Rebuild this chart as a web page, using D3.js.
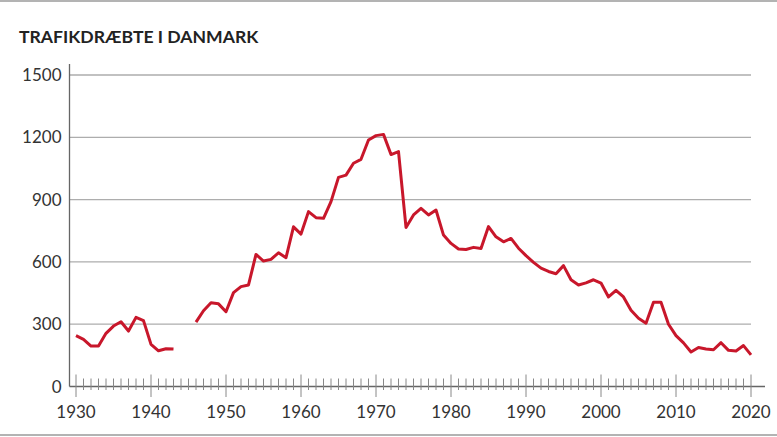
<!DOCTYPE html>
<html>
<head>
    <meta charset="utf-8">
    <title>Trafikdræbte i Danmark</title>
    <script src="https://d3js.org/d3.v7.min.js"></script>
    <style>
        body {
            margin: 0;
            background-color: #fff;
            font-family: 'Lato', sans-serif;
        }

        .title {
            font-size: 17.6px;
            font-weight: 700;
            fill: #222;
        }

        .tick-label {
            font-size: 17px;
            fill: #333;
        }

        .grid {
            stroke: #adadad;
            stroke-width: 1.3px;
        }

        .axis-line {
            stroke: #666;
            stroke-width: 1.3px;
        }

        .year-tick {
            stroke: #888;
            stroke-width: 1px;
        }

        .series {
            fill: none;
            stroke: #c8172b;
            stroke-width: 3px;
            stroke-linejoin: round;
        }
    </style>
</head>
<body>
    <div id="chart"></div>

    <script>
        const years1 = [1930, 1931, 1932, 1933, 1934, 1935, 1936, 1937, 1938, 1939, 1940, 1941, 1942, 1943];
        const deaths1 = [245, 227, 195, 195, 256, 291, 312, 267, 333, 317, 203, 172, 182, 180];

        const years2 = d3.range(1946, 2021);
        const deaths2 = [
            310, 365, 403, 398, 360, 452, 481, 489, 636, 604,   // 1946-1955
            612, 644, 620, 769, 734, 842, 813, 810, 890, 1007,  // 1956-1965
            1018, 1075, 1094, 1187, 1208, 1214, 1117, 1131, 766, 826, // 1966-1975
            858, 826, 850, 729, 689, 662, 660, 670, 665, 770,   // 1976-1985
            721, 697, 713, 666, 630, 598, 570, 554, 543, 582,   // 1986-1995
            514, 489, 499, 514, 498, 431, 463, 431, 367, 329,   // 1996-2005
            305, 406, 406, 300, 245, 210, 166, 188, 181, 177,   // 2006-2015
            211, 174, 171, 197, 152                              // 2016-2020
        ];

        const yTicks = [0, 300, 600, 900, 1200, 1500];
        const xLabels = [1930, 1940, 1950, 1960, 1970, 1980, 1990, 2000, 2010, 2020];
        const title = "TRAFIKDRÆBTE I DANMARK";

        const width = 777, height = 437;

        const svg = d3.select('#chart').append('svg')
            .attr('width', width)
            .attr('height', height);

        const x = d3.scaleLinear().domain([1930, 2020]).range([76, 751]);
        const y = d3.scaleLinear().domain([0, 1500]).range([386.5, 75]);

        // frame lines top and bottom
        svg.append('line')
            .attr('x1', 0).attr('x2', width).attr('y1', 1).attr('y2', 1)
            .attr('stroke', '#9a9a9a').attr('stroke-width', 1.5);
        svg.append('line')
            .attr('x1', 0).attr('x2', width).attr('y1', 435).attr('y2', 435)
            .attr('stroke', '#9a9a9a').attr('stroke-width', 1.5);

        svg.append('text')
            .attr('class', 'title')
            .attr('x', 19)
            .attr('y', 43)
            .text(title);

        // horizontal gridlines
        svg.append('g')
            .selectAll('line')
            .data(yTicks.filter(d => d > 0))
            .join('line')
            .attr('class', 'grid')
            .attr('x1', 70).attr('x2', x(2020))
            .attr('y1', d => y(d)).attr('y2', d => y(d));

        svg.append('g')
            .selectAll('text')
            .data(yTicks)
            .join('text')
            .attr('class', 'tick-label')
            .attr('x', 61.5)
            .attr('y', d => y(d))
            .attr('dy', '0.36em')
            .attr('text-anchor', 'end')
            .text(d => d);

        // axes
        svg.append('line')
            .attr('class', 'axis-line')
            .attr('x1', 69.5).attr('x2', 69.5)
            .attr('y1', 64).attr('y2', y(0));
        svg.append('line')
            .attr('class', 'axis-line')
            .attr('x1', 69.5).attr('x2', 765)
            .attr('y1', y(0)).attr('y2', y(0));

        const allYears = d3.range(1930, 2021);
        svg.append('g')
            .selectAll('line')
            .data(allYears)
            .join('line')
            .attr('class', 'year-tick')
            .attr('x1', d => x(d)).attr('x2', d => x(d))
            .attr('y1', d => d % 10 === 0 ? 374.5 : 378.5)
            .attr('y2', d => d % 10 === 0 ? 397 : 390);

        svg.append('g')
            .selectAll('text')
            .data(xLabels)
            .join('text')
            .attr('class', 'tick-label')
            .attr('x', d => x(d))
            .attr('y', 418)
            .attr('text-anchor', 'middle')
            .text(d => d);

        const line = d3.line()
            .x(d => x(d[0]))
            .y(d => y(d[1]));

        svg.append('path')
            .attr('class', 'series')
            .attr('d', line(d3.zip(years1, deaths1)));

        svg.append('path')
            .attr('class', 'series')
            .attr('d', line(d3.zip(years2, deaths2)));
    </script>
</body>
</html>
